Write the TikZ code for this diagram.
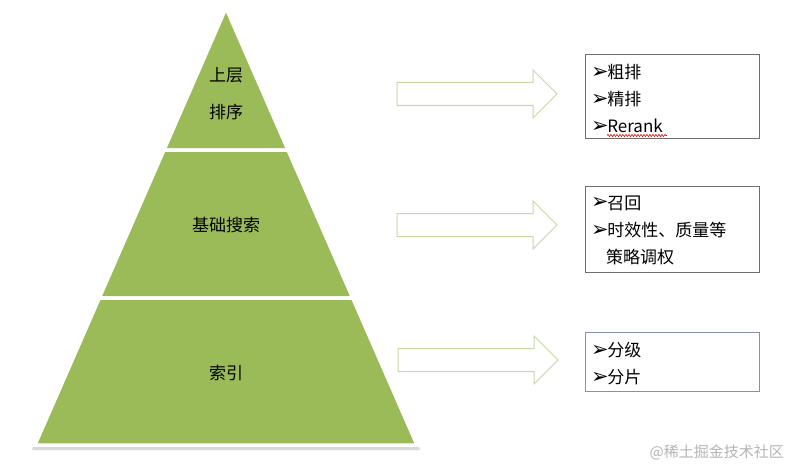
\documentclass[tikz,border=0pt]{standalone}
\usepackage{fontspec}
\setmainfont{Noto Sans CJK SC}
\newfontfamily\symfont{DejaVu Sans}
\usetikzlibrary{decorations.pathmorphing}
\definecolor{tiergreen}{HTML}{9BBB59}
\definecolor{arrowedge}{HTML}{C9D8A2}
\definecolor{boxedge}{HTML}{6E6E6E}
\definecolor{boxedgeb}{HTML}{8A8FB0}
\definecolor{wmgray}{HTML}{B4B4B4}
\tikzset{
  tier/.style={fill=tiergreen, draw=white, line width=3.5pt, line join=miter},
  tierlabel/.style={font=\fontsize{17}{20}\selectfont, text=black, align=center},
  blockarrow/.pic={\draw[draw=arrowedge, fill=white, line width=1pt]
      (-80,-11.5) -- (56,-11.5) -- (56,-24) -- (80,0) -- (56,24) -- (56,11.5) -- (-80,11.5) -- cycle;},
  listbox/.style={draw=boxedge, line width=0.8pt, fill=white, anchor=north west,
      minimum width=174pt, inner sep=0pt},
  item/.style={anchor=west, font=\fontsize{17}{20}\selectfont, inner sep=0pt},
}
\newcommand{\bul}{\raisebox{0.3pt}{\symfont\fontsize{21}{21}\selectfont ➢}\hspace{-1.5pt}}
\begin{document}
\begin{tikzpicture}[x=1pt,y=-1pt]
\useasboundingbox (0,0) rectangle (791,468);
% shadow
\fill[black!15] (33,447) -- (419,447) -- (420,450) -- (32,450) -- cycle;
% pyramid tiers
\coordinate (apex) at (226,8);
\coordinate (t1l) at (164,150); \coordinate (t1r) at (288,150);
\coordinate (t2l) at (99.3,298); \coordinate (t2r) at (352.7,298);
\coordinate (bl) at (35,445); \coordinate (br) at (417,445);
\path[tier] (apex) -- (t1r) -- (t1l) -- cycle;
\path[tier] (t1l) -- (t1r) -- (t2r) -- (t2l) -- cycle;
\path[tier] (t2l) -- (t2r) -- (br) -- (bl) -- cycle;
\node[tierlabel] (top1) at (226,75) {上层};
\node[tierlabel] (top2) at (226,112) {排序};
\node[tierlabel] (mid) at (226,225) {基础搜索};
\node[tierlabel] (bot) at (226,373) {索引};
% block arrows
\pic at (477,94) {blockarrow};
\pic at (477,225) {blockarrow};
\pic at (478,360) {blockarrow};
% boxes
\node[listbox, minimum height=84pt] (box1) at (585,54) {};
\node[listbox, minimum height=86pt] (box2) at (585,186) {};
\node[listbox, draw=boxedgeb, minimum height=59pt] (box3) at (585,332) {};
\node[item] (b1a) at (591,72) {\bul 粗排};
\node[item] (b1b) at (591,99) {\bul 精排};
\node[item] (b1c) at (591,126) {\bul Rerank};
\draw[red!85!black, line width=0.6pt, decorate, decoration={snake, amplitude=1.1pt, segment length=3pt}]
  (607,135.5) -- (667,135.5);
\node[item] (b2a) at (591,203) {\bul 召回};
\node[item] (b2b) at (591,230) {\bul 时效性、质量等};
\node[item] (b2c) at (606,257) {策略调权};
\node[item] (b3a) at (591,350) {\bul 分级};
\node[item] (b3b) at (591,377) {\bul 分片};
% watermark
\node[anchor=east, font=\fontsize{15}{17}\selectfont, text=wmgray, inner sep=0pt] (wm) at (784,452) {@稀土掘金技术社区};
\end{tikzpicture}
\end{document}
